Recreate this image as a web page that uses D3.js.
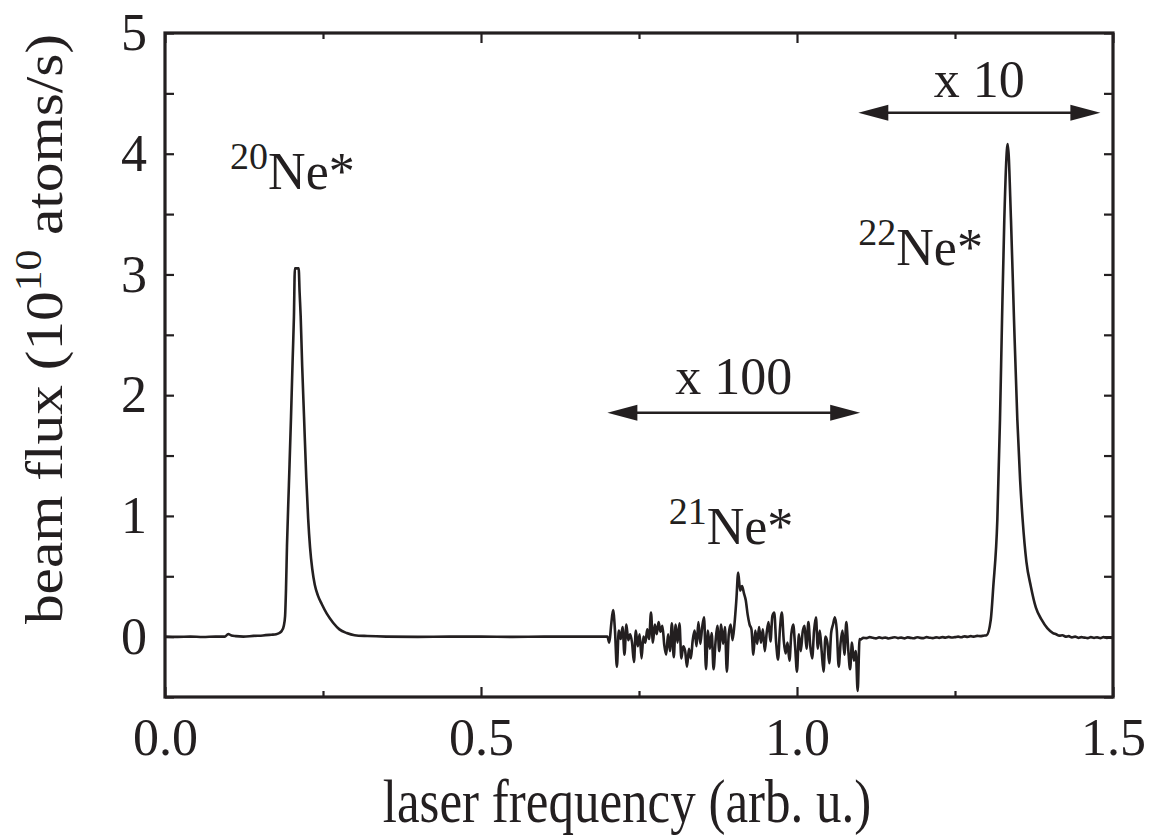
<!DOCTYPE html>
<html><head><meta charset="utf-8">
<script src="https://cdn.jsdelivr.net/npm/d3@7"></script>
</head><body style="margin:0;background:#fff">
<svg id="chart" width="1149" height="835"></svg>
<script>
// ---- data ----
const xMajorTicks = [0.0, 0.5, 1.0, 1.5];
const xMinorTicks = [0.25, 0.75, 1.25];
const yMajorTicks = [0, 1, 2, 3, 4, 5];
const yMinorTicks = [-0.5, 0.5, 1.5, 2.5, 3.5, 4.5];

const baseLeftX = [0.0, 0.02, 0.04, 0.06, 0.08, 0.095, 0.1, 0.105, 0.112, 0.124, 0.14, 0.155, 0.168];
const baseLeftY = [0.0, -0.002, 0.0, -0.003, 0.0, 0.0, 0.022, 0.01, 0.004, 0.0, 0.006, 0.01, 0.016];

const peak20X = [0.176, 0.181, 0.185, 0.188, 0.190, 0.1915, 0.193, 0.196, 0.1994, 0.202, 0.204, 0.2055, 0.2115, 0.213, 0.2147, 0.217, 0.220, 0.2235, 0.2265, 0.2295, 0.233, 0.237, 0.242, 0.248, 0.256, 0.266, 0.276, 0.2875, 0.300, 0.32, 0.35];
const peak20Y = [0.02, 0.03, 0.05, 0.09, 0.17, 0.4, 0.75, 1.25, 1.82, 2.3, 2.65, 3.05, 3.05, 2.85, 2.65, 2.25, 1.82, 1.32, 0.98, 0.74, 0.56, 0.43, 0.34, 0.27, 0.19, 0.115, 0.06, 0.03, 0.012, 0.005, 0.0];

const baseMidX = [0.40, 0.45, 0.50, 0.55, 0.60, 0.65, 0.699];
const baseMidY = [-0.002, 0.0, 0.0, -0.002, 0.0, 0.0, 0.0];

// x100 scaled 21Ne region, sampled every 0.003 from 0.700
const noiseStart = 0.700, noiseStep = 0.003;
const noiseY = [
 0.00,-0.05, 0.10, 0.22, 0.05,-0.25, 0.05,-0.02, 0.08,-0.15,
 0.10,-0.03, 0.02,-0.05,-0.21, 0.05,-0.08, 0.02,-0.18, 0.00,
-0.05, 0.06,-0.02, 0.20,-0.05, 0.10, 0.02, 0.12, 0.04, 0.09,
-0.07,-0.15, 0.02,-0.12, 0.11,-0.17, 0.10,-0.05, 0.11,-0.18,
-0.08,-0.12,-0.25,-0.10,-0.18,-0.03, 0.05,-0.08, 0.12,-0.06,
 0.08, 0.16,-0.27, 0.05,-0.10, 0.03,-0.27,-0.05, 0.09,-0.12,
 0.10,-0.06, 0.08,-0.29, 0.02, 0.10,-0.03, 0.10, 0.30, 0.53,
 0.38, 0.42, 0.36, 0.30, 0.18, 0.10, 0.06,-0.15, 0.05,-0.06,
 0.08,-0.05, 0.06,-0.12, 0.03, 0.12,-0.04, 0.17, 0.20,-0.05,
-0.19, 0.06, 0.20,-0.03,-0.14,-0.05,-0.20, 0.02, 0.10,-0.08,
-0.29, 0.02,-0.12, 0.04, 0.09,-0.10, 0.12,-0.08,-0.18, 0.05,
 0.16,-0.10, 0.05,-0.12,-0.29, 0.00,-0.05,-0.22, 0.03, 0.10,
 0.16, 0.05,-0.25,-0.05, 0.05,-0.15, 0.12,-0.10,-0.27,-0.05,
-0.20,-0.12,-0.45,-0.02
];

const baseRightX = [1.100, 1.105, 1.11, 1.115, 1.12, 1.125, 1.13, 1.135, 1.14, 1.145, 1.15, 1.155, 1.16, 1.165, 1.17, 1.175, 1.18, 1.185, 1.19, 1.195, 1.20, 1.205, 1.21, 1.215, 1.22, 1.225, 1.23, 1.235, 1.24, 1.245, 1.25, 1.255, 1.26, 1.265, 1.27, 1.275, 1.28, 1.285, 1.29, 1.295];
const baseRightY = [-0.025,-0.01,-0.012,-0.004,-0.01,-0.014,-0.006,-0.012,-0.008,-0.015,-0.01,-0.005,-0.012,-0.008,-0.014,-0.006,-0.01,-0.013,-0.005,-0.01,-0.012,-0.004,-0.009,-0.012,-0.006,-0.01,-0.004,-0.008,-0.002,-0.007,-0.004,0.0,-0.005,0.002,-0.002,0.004,0.0,0.006,0.004,0.008];

const peak22X = [1.300, 1.3066, 1.3106, 1.317, 1.3212, 1.3244, 1.328, 1.3334, 1.3386, 1.3434, 1.3486, 1.353, 1.357, 1.363, 1.370, 1.378, 1.387, 1.396, 1.405];
const peak22Y = [0.012, 0.14, 0.416, 0.97, 1.80, 2.62, 3.45, 4.08, 3.45, 2.62, 1.80, 1.30, 0.97, 0.62, 0.416, 0.24, 0.14, 0.07, 0.03];

const tailX = [1.41, 1.415, 1.42, 1.425, 1.43, 1.435, 1.44, 1.445, 1.45, 1.455, 1.46, 1.465, 1.47, 1.475, 1.48, 1.485, 1.49, 1.495, 1.50];
const tailY = [0.02, 0.008, 0.012, 0.0, 0.004, -0.006, 0.0, -0.01, -0.004, -0.008, -0.012, -0.004, -0.01, -0.006, -0.012, -0.004, -0.01, -0.008, -0.012];

// annotations (data coordinates)
const arrowsX1 = [0.70, 1.097];
const arrowsX2 = [1.10, 1.480];
const arrowsY  = [1.855, 4.34];
const arrowLabels = ["x 100", "x 10"];
const arrowLabelY = [2.01, 4.47];

const isoMass = ["20", "21", "22"];
const isoX = [0.103, 0.797, 1.097];
const isoY = [3.71, 0.765, 3.08];

// ---- layout ----
const m = {left:165, right:1113, top:33, bottom:697};
const ink = "#231f20";
const serif = '"Liberation Serif"';
const svg = d3.select("#chart");

const x = d3.scaleLinear().domain([0, 1.5]).range([m.left, m.right]);
const y = d3.scaleLinear().domain([-0.5, 5]).range([m.bottom, m.top]);

// build the trace
const pts = [];
baseLeftX.forEach((v,i)=>pts.push([v, baseLeftY[i]]));
peak20X.forEach((v,i)=>pts.push([v, peak20Y[i]]));
baseMidX.forEach((v,i)=>pts.push([v, baseMidY[i]]));
noiseY.forEach((v,i)=>pts.push([noiseStart + i*noiseStep, v]));
baseRightX.forEach((v,i)=>pts.push([v, baseRightY[i]]));
peak22X.forEach((v,i)=>pts.push([v, peak22Y[i]]));
tailX.forEach((v,i)=>pts.push([v, tailY[i]]));

const line = d3.line().x(d=>x(d[0])).y(d=>y(d[1])).curve(d3.curveMonotoneX);
svg.append("path").datum(pts).attr("d", line)
  .attr("fill","none").attr("stroke",ink).attr("stroke-width",2.6)
  .attr("stroke-linejoin","round");

// axes
const fontSize = 52;
function styleAxis(g){ g.select(".domain").remove(); g.selectAll("line").attr("stroke",ink).attr("stroke-width",2.2); }

svg.append("g").attr("transform",`translate(0,${m.bottom})`)
  .call(d3.axisBottom(x).tickValues(xMajorTicks).tickSize(-10).tickPadding(21).tickFormat(d3.format(".1f")))
  .call(styleAxis)
  .selectAll("text").attr("font-size",fontSize).attr("fill",ink);
svg.append("g").attr("transform",`translate(0,${m.bottom})`)
  .call(d3.axisBottom(x).tickValues(xMinorTicks).tickSize(-6).tickFormat(""))
  .call(styleAxis);
svg.append("g").attr("transform",`translate(0,${m.top})`)
  .call(d3.axisTop(x).tickValues(xMajorTicks).tickSize(-10).tickFormat(""))
  .call(styleAxis);
svg.append("g").attr("transform",`translate(0,${m.top})`)
  .call(d3.axisTop(x).tickValues(xMinorTicks).tickSize(-6).tickFormat(""))
  .call(styleAxis);

svg.append("g").attr("transform",`translate(${m.left},0)`)
  .call(d3.axisLeft(y).tickValues(yMajorTicks).tickSize(-9).tickPadding(18).tickFormat(d3.format("d")))
  .call(styleAxis)
  .selectAll("text").attr("font-size",fontSize).attr("fill",ink);
svg.append("g").attr("transform",`translate(${m.left},0)`)
  .call(d3.axisLeft(y).tickValues(yMinorTicks).tickSize(-9).tickFormat(""))
  .call(styleAxis);
svg.append("g").attr("transform",`translate(${m.right},0)`)
  .call(d3.axisRight(y).tickValues(yMajorTicks.concat(yMinorTicks)).tickSize(-9).tickFormat(""))
  .call(styleAxis);

// frame
svg.append("rect").attr("x",m.left).attr("y",m.top)
  .attr("width",m.right-m.left).attr("height",m.bottom-m.top)
  .attr("fill","none").attr("stroke",ink).attr("stroke-width",3.2);

// axis titles (the reference lettering is slightly stretched along the page height)
svg.append("text").attr("transform","translate(627,822) scale(1,1.2)")
  .attr("text-anchor","middle").attr("font-size",51).attr("fill",ink)
  .text("laser frequency (arb. u.)");

const yt = svg.append("text").attr("transform","translate(62,329) rotate(-90) scale(1.12,1)")
  .attr("text-anchor","middle").attr("font-size",53).attr("fill",ink);
yt.append("tspan").text("beam flux (10");
yt.append("tspan").attr("font-size",37).attr("dy",-21).text("10");
yt.append("tspan").attr("dy",21).text(" atoms/s)");

// isotope labels
isoMass.forEach((mass,i)=>{
  const t = svg.append("text").attr("x",x(isoX[i])).attr("y",y(isoY[i])).attr("font-size",fontSize).attr("fill",ink);
  t.append("tspan").attr("font-size",38).attr("dy",-20).text(mass);
  t.append("tspan").attr("dy",20).text("Ne*");
});

// scale arrows
arrowsX1.forEach((x1,i)=>{
  const a = x(x1), b = x(arrowsX2[i]), yy = y(arrowsY[i]);
  const hl = 30, hw = 8;
  svg.append("line").attr("x1",a+hl-2).attr("x2",b-hl+2).attr("y1",yy).attr("y2",yy)
    .attr("stroke",ink).attr("stroke-width",2.4);
  svg.append("path").attr("d",`M${a},${yy}L${a+hl},${yy-hw}L${a+hl},${yy+hw}Z`).attr("fill",ink);
  svg.append("path").attr("d",`M${b},${yy}L${b-hl},${yy-hw}L${b-hl},${yy+hw}Z`).attr("fill",ink);
  svg.append("text").attr("x",(a+b)/2).attr("y",y(arrowLabelY[i]))
    .attr("text-anchor","middle").attr("font-size",fontSize).attr("fill",ink).text(arrowLabels[i]);
});

svg.selectAll("text").style("font-family", serif);
</script>
</body></html>
